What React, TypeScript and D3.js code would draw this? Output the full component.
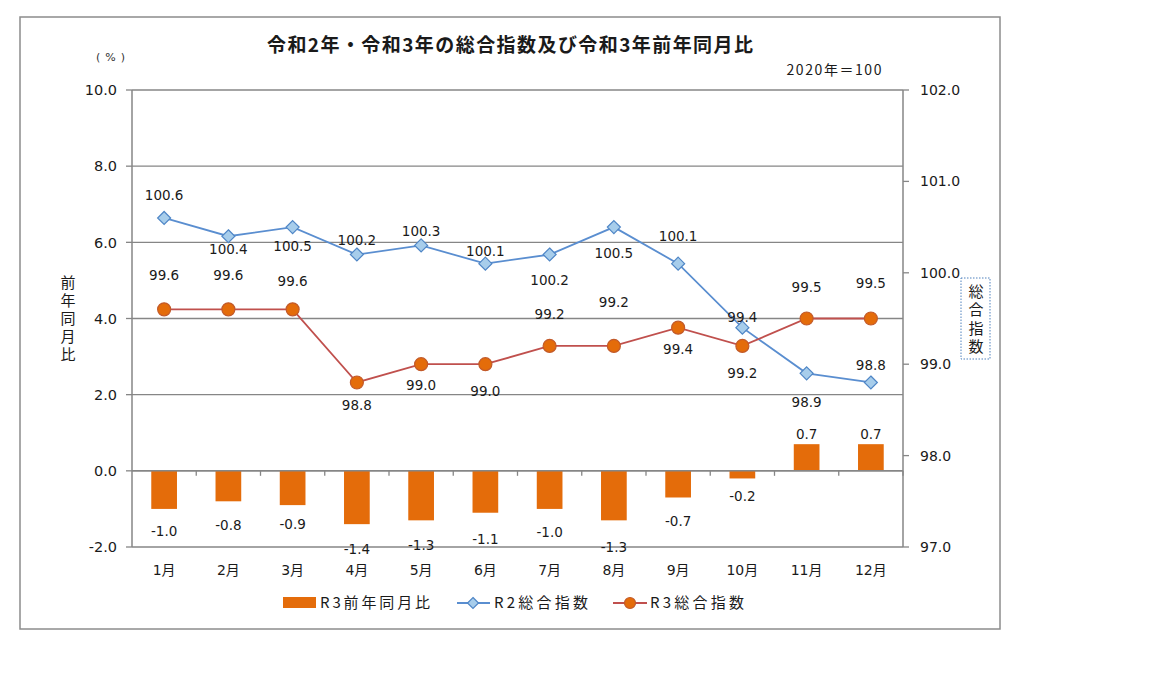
import React from "react";
import * as d3 from "d3";

const months = ["1月", "2月", "3月", "4月", "5月", "6月", "7月", "8月", "9月", "10月", "11月", "12月"];
const r3YoY = [-1.0, -0.8, -0.9, -1.4, -1.3, -1.1, -1.0, -1.3, -0.7, -0.2, 0.7, 0.7];
const r2Index = [100.6, 100.4, 100.5, 100.2, 100.3, 100.1, 100.2, 100.5, 100.1, 99.4, 98.9, 98.8];
const r3Index = [99.6, 99.6, 99.6, 98.8, 99.0, 99.0, 99.2, 99.2, 99.4, 99.2, 99.5, 99.5];
const leftTicks = [-2, 0, 2, 4, 6, 8, 10];
const rightTicks = [97, 98, 99, 100, 101, 102];

// label offsets (px, label centre relative to mark)
const r2LabelDy = [-23, 13, 19, -14, -14, -13, 26, 26, -28, -11, 29, -17];
const r3LabelDy = [-34, -34, -28, 23, 21, 27, -32, -44, 21, 27, -31, -35];
const barLabelDy = [22, 24, 19, 25, 25, 26, 23, 27, 24, 18, -10, -10];

const FONT = "'Noto Sans CJK JP', 'Noto Sans', sans-serif";
const NUMFONT = "'DejaVu Sans', 'Noto Sans CJK JP', sans-serif";
const BAR = "#E46C0A";
const R2LINE = "#5A8ED0";
const R2FILL = "#A7CDEB";
const R2STROKE = "#4F86C6";
const R3LINE = "#C0504D";
const R3FILL = "#E46C0A";
const R3STROKE = "#C25A2A";
const GRID = "#868686";
const INK = "#1a1a1a";

export default function App() {
  const left = 132, right = 903, top = 90, bottom = 547;
  const x = d3.scaleBand<string>().domain(months).range([left, right]).paddingInner(0).paddingOuter(0);
  const yL = d3.scaleLinear().domain([-2, 10]).range([bottom, top]);
  const yR = d3.scaleLinear().domain([97, 102]).range([bottom, top]);
  const bw = x.bandwidth() * 0.4;
  const cx = (m: string) => (x(m) as number) + x.bandwidth() / 2;

  const r2Line = d3.line<number>().x((_, i) => cx(months[i])).y((v) => yR(v));
  const r3Line = d3.line<number>().x((_, i) => cx(months[i])).y((v) => yR(v));

  const diamond = (px: number, py: number, r: number) =>
    `M${px},${py - r}L${px + r},${py}L${px},${py + r}L${px - r},${py}Z`;

  const y0 = yL(0);

  return (
    <svg width={1152} height={684} style={{ position: "absolute", left: 0, top: 0, background: "#fff" }} fontFamily={FONT}>
      <rect x={0} y={0} width={1152} height={684} fill="#fff" />
      <rect x={20} y={17} width={980} height={612} fill="#fff" stroke="#8c8c8c" strokeWidth={1.5} />

      {/* title */}
      <text x={510} y={52} textAnchor="middle" fontSize={19} fontWeight="bold" fill={INK} textLength={486} lengthAdjust="spacing">
        令和2年・令和3年の総合指数及び令和3年前年同月比
      </text>
      <text x={96} y={57} dy="0.35em" textAnchor="start" fontSize={11} fill="#333" fontFamily={NUMFONT} letterSpacing={5}>(%)</text>
      <text x={834} y={70} dy="0.35em" textAnchor="middle" fontSize={14} fill={INK} textLength={95} lengthAdjust="spacing">2020年＝100</text>

      {/* grid lines */}
      {leftTicks.map((t) => (
        <line key={"g" + t} x1={left} x2={right} y1={yL(t)} y2={yL(t)} stroke={GRID} strokeWidth={1.3} />
      ))}
      {/* left axis */}
      <line x1={left} x2={left} y1={top} y2={bottom} stroke={GRID} strokeWidth={1.5} />
      {leftTicks.map((t) => (
        <g key={"l" + t}>
          <line x1={left - 6} x2={left} y1={yL(t)} y2={yL(t)} stroke={GRID} strokeWidth={1.3} />
          <text x={117} y={yL(t)} dy="0.36em" textAnchor="end" fontSize={14.5} fontFamily={NUMFONT} fill={INK}>{t.toFixed(1)}</text>
        </g>
      ))}
      {/* right axis */}
      <line x1={right} x2={right} y1={top} y2={bottom} stroke={GRID} strokeWidth={1.5} />
      {rightTicks.map((t) => (
        <g key={"r" + t}>
          <line x1={right} x2={right + 6} y1={yR(t)} y2={yR(t)} stroke={GRID} strokeWidth={1.3} />
          <text x={920} y={yR(t)} dy="0.36em" textAnchor="start" fontSize={14} fontFamily={NUMFONT} fill={INK}>{t.toFixed(1)}</text>
        </g>
      ))}

      {/* bars */}
      {r3YoY.map((v, i) => {
        const m = months[i];
        const yy = Math.min(yL(v), y0);
        const h = Math.abs(yL(v) - y0);
        return <rect key={"b" + i} x={cx(m) - bw / 2} y={yy} width={bw} height={h} fill={BAR} />;
      })}
      {/* zero axis with category ticks */}
      <line x1={left} x2={right} y1={y0} y2={y0} stroke={GRID} strokeWidth={1.5} />
      {months.map((m, i) => (
        <line key={"xt" + i} x1={(x(m) as number) + x.bandwidth()} x2={(x(m) as number) + x.bandwidth()} y1={y0} y2={y0 + 5} stroke={GRID} strokeWidth={1.3} />
      ))}
      {r3YoY.map((v, i) => (
        <text key={"bl" + i} x={cx(months[i])} y={yL(v) + barLabelDy[i]} dy="0.36em" textAnchor="middle" fontSize={13.5} fontFamily={NUMFONT} fill={INK}>
          {v.toFixed(1)}
        </text>
      ))}

      {/* lines */}
      <path d={r2Line(r2Index) || ""} fill="none" stroke={R2LINE} strokeWidth={1.8} />
      <path d={r3Line(r3Index) || ""} fill="none" stroke={R3LINE} strokeWidth={1.8} />
      {r2Index.map((v, i) => (
        <path key={"d" + i} d={diamond(cx(months[i]), yR(v), 6.5)} fill={R2FILL} stroke={R2STROKE} strokeWidth={1.2} />
      ))}
      {r3Index.map((v, i) => (
        <circle key={"c" + i} cx={cx(months[i])} cy={yR(v)} r={6.5} fill={R3FILL} stroke={R3STROKE} strokeWidth={1.2} />
      ))}
      {r2Index.map((v, i) => (
        <text key={"l2" + i} x={cx(months[i])} y={yR(v) + r2LabelDy[i]} dy="0.36em" textAnchor="middle" fontSize={13.5} fontFamily={NUMFONT} fill={INK}>
          {v.toFixed(1)}
        </text>
      ))}
      {r3Index.map((v, i) => (
        <text key={"l3" + i} x={cx(months[i])} y={yR(v) + r3LabelDy[i]} dy="0.36em" textAnchor="middle" fontSize={13.5} fontFamily={NUMFONT} fill={INK}>
          {v.toFixed(1)}
        </text>
      ))}

      {/* x labels */}
      {months.map((m) => (
        <text key={"x" + m} x={cx(m)} y={570} dy="0.36em" textAnchor="middle" fontSize={14} fontFamily={NUMFONT} fill={INK}>{m}</text>
      ))}

      {/* axis titles */}
      <text x={68} y={275} fontSize={15} fill={INK} style={{ writingMode: "vertical-rl" }} letterSpacing={3}>前年同月比</text>
      <rect x={961} y={278} width={29} height={81} fill="#fff" stroke="#4F81BD" strokeWidth={1} strokeDasharray="1.5,1.5" />
      <text x={976} y={284} fontSize={15} fill={INK} style={{ writingMode: "vertical-rl" }} letterSpacing={3.3}>総合指数</text>

      {/* legend */}
      <rect x={283} y={597} width={33} height={11} fill={BAR} />
      <text x={320} y={603} dy="0.35em" fontSize={15} fill={INK} textLength={110} lengthAdjust="spacing">R3前年同月比</text>
      <line x1={457} x2={490} y1={603} y2={603} stroke={R2LINE} strokeWidth={1.8} />
      <path d={diamond(473, 603, 5.5)} fill={R2FILL} stroke={R2STROKE} strokeWidth={1.2} />
      <text x={494} y={603} dy="0.35em" fontSize={15} fill={INK} textLength={94} lengthAdjust="spacing">R2総合指数</text>
      <line x1={613} x2={647} y1={603} y2={603} stroke={R3LINE} strokeWidth={1.8} />
      <circle cx={630} cy={603} r={5.5} fill={R3FILL} stroke={R3STROKE} strokeWidth={1.2} />
      <text x={650} y={603} dy="0.35em" fontSize={15} fill={INK} textLength={94} lengthAdjust="spacing">R3総合指数</text>
    </svg>
  );
}
